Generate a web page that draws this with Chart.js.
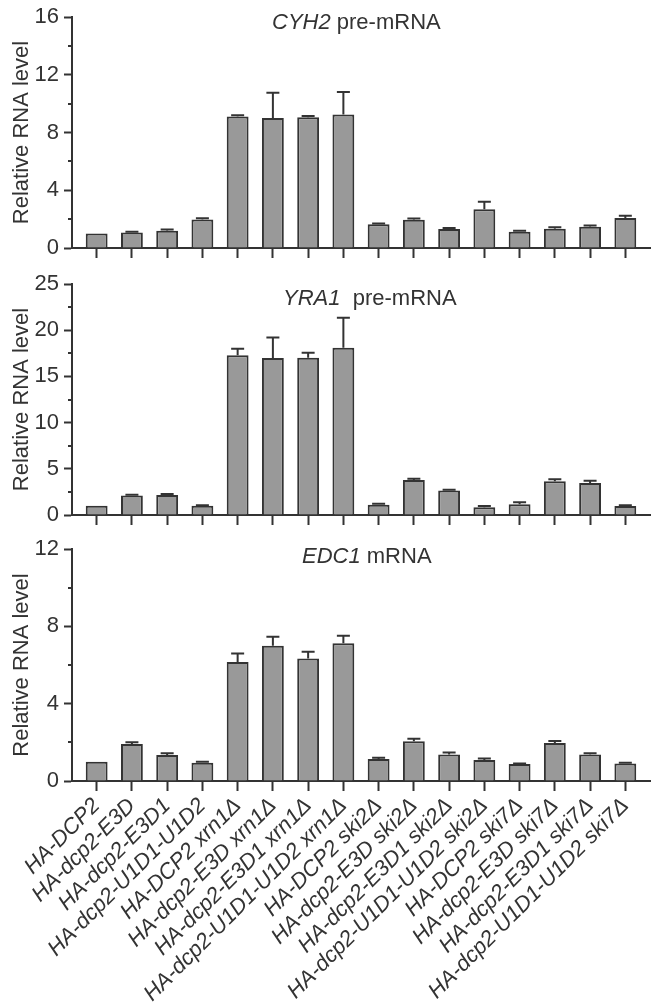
<!DOCTYPE html>
<html>
<head>
<meta charset="utf-8">
<script src="https://cdn.jsdelivr.net/npm/chart.js@4"></script>
<style>
  body { margin: 0; background: #fff; }
  #wrap { position: relative; width: 659px; height: 1002px; }
  canvas { position: absolute; left: 0; }
</style>
</head>
<body>
<div id="wrap">
  <canvas id="c1" width="659" height="262" style="top:0px"></canvas>
  <canvas id="c2" width="659" height="262" style="top:266px"></canvas>
  <canvas id="c3" width="659" height="472" style="top:530px"></canvas>
</div>
<script>
const strains = [
    "HA-DCP2", "HA-dcp2-E3D", "HA-dcp2-E3D1", "HA-dcp2-U1D1-U1D2",
    "HA-DCP2 xrn1Δ", "HA-dcp2-E3D xrn1Δ", "HA-dcp2-E3D1 xrn1Δ", "HA-dcp2-U1D1-U1D2 xrn1Δ",
    "HA-DCP2 ski2Δ", "HA-dcp2-E3D ski2Δ", "HA-dcp2-E3D1 ski2Δ", "HA-dcp2-U1D1-U1D2 ski2Δ",
    "HA-DCP2 ski7Δ", "HA-dcp2-E3D ski7Δ", "HA-dcp2-E3D1 ski7Δ", "HA-dcp2-U1D1-U1D2 ski7Δ"
];

// CYH2 pre-mRNA
const cyh2Values = [1.0, 1.07, 1.2, 1.98, 9.1, 9.0, 9.05, 9.25, 1.65, 1.96, 1.32, 2.68, 1.12, 1.34, 1.48, 2.08];
const cyh2Errors = [0, 0.06, 0.09, 0.08, 0.09, 1.75, 0.09, 1.55, 0.05, 0.08, 0.07, 0.52, 0.08, 0.09, 0.07, 0.16];
const cyh2Ticks = [0, 4, 8, 12, 16];

// YRA1 pre-mRNA
const yra1Values = [1.0, 2.1, 2.17, 1.0, 17.3, 17.0, 17.02, 18.1, 1.12, 3.8, 2.66, 0.85, 1.17, 3.66, 3.45, 0.98];
const yra1Errors = [0, 0.1, 0.1, 0.06, 0.68, 2.2, 0.55, 3.25, 0.1, 0.12, 0.06, 0.12, 0.2, 0.2, 0.25, 0.08];
const yra1Ticks = [0, 5, 10, 15, 20, 25];

// EDC1 mRNA
const edc1Values = [1.0, 1.92, 1.35, 0.95, 6.15, 7.0, 6.34, 7.12, 1.14, 2.05, 1.37, 1.09, 0.88, 1.97, 1.37, 0.9];
const edc1Errors = [0, 0.08, 0.08, 0.04, 0.45, 0.46, 0.34, 0.39, 0.06, 0.13, 0.1, 0.07, 0.03, 0.1, 0.06, 0.05];
const edc1Ticks = [0, 4, 8, 12];

const INK = "#333333";
Chart.defaults.font.family = '"Liberation Sans", Arial, sans-serif';
Chart.defaults.color = INK;

// titulo dentro do grafico, parte do gene em italico
const panelTitle = {
    id: "panelTitle",
    afterDraw(chart, args, opts) {
        const ctx = chart.ctx;
        ctx.save();
        ctx.fillStyle = INK;
        ctx.textBaseline = "alphabetic";
        ctx.textAlign = "left";
        ctx.font = 'italic 22px "Liberation Sans", Arial, sans-serif';
        ctx.fillText(opts.gene, opts.x, opts.y);
        const w = ctx.measureText(opts.gene).width;
        ctx.font = '22px "Liberation Sans", Arial, sans-serif';
        ctx.fillText(opts.rest, opts.x + w, opts.y);
        ctx.restore();
    }
};

// tracos menores do eixo y e barras de erro (so para cima)
const extras = {
    id: "extras",
    afterDatasetsDraw(chart, args, opts) {
        const ctx = chart.ctx;
        const y = chart.scales.y;
        ctx.save();
        ctx.strokeStyle = INK;
        ctx.lineWidth = 2;
        // minor ticks
        for (let v = opts.step / 2; v < y.max; v += opts.step) {
            const py = Math.round(y.getPixelForValue(v));
            ctx.beginPath();
            ctx.moveTo(y.right - 4, py);
            ctx.lineTo(y.right, py);
            ctx.stroke();
        }
        // error bars
        const meta = chart.getDatasetMeta(0);
        meta.data.forEach((bar, i) => {
            const err = opts.errors[i];
            if (!err) return;
            const top = y.getPixelForValue(opts.values[i] + err);
            ctx.beginPath();
            ctx.moveTo(bar.x, bar.y);
            ctx.lineTo(bar.x, top);
            ctx.moveTo(bar.x - 6.5, top);
            ctx.lineTo(bar.x + 6.5, top);
            ctx.stroke();
        });
        ctx.restore();
    }
};

function criarPainel(id, values, errors, ticks, title, showLabels, padTop, xHeight) {
    const step = ticks[1] - ticks[0];
    const yMax = ticks[ticks.length - 1];
    return new Chart(document.getElementById(id), {
        type: "bar",
        data: {
            datasets: [{
                data: values.map((v, i) => ({ x: i, y: v })),
                backgroundColor: "#999999",
                borderColor: INK,
                borderWidth: 2,
                barPercentage: 0.62,
                categoryPercentage: 1
            }]
        },
        options: {
            responsive: false,
            animation: false,
            layout: { padding: { top: padTop, right: 9, left: 0, bottom: 0 } },
            plugins: {
                legend: { display: false },
                tooltip: { enabled: false },
                panelTitle: title,
                extras: { values: values, errors: errors, step: step }
            },
            scales: {
                x: {
                    type: "linear",
                    offset: false,
                    min: -0.7,
                    max: 15.7,
                    grid: { display: true, offset: false, drawOnChartArea: false, tickLength: 10, tickWidth: 2, tickColor: INK },
                    border: { color: INK, width: 2 },
                    ticks: {
                        display: showLabels,
                        stepSize: 1,
                        includeBounds: false,
                        autoSkip: false,
                        minRotation: 45,
                        maxRotation: 45,
                        padding: 2,
                        color: INK,
                        font: { size: 22, style: "italic" },
                        callback: v => strains[v]
                    },
                    afterFit: s => { s.height = xHeight; s.paddingLeft = 0; s.paddingRight = 0; }
                },
                y: {
                    min: 0,
                    max: yMax,
                    grid: { display: true, drawOnChartArea: false, tickLength: 8, tickWidth: 2, tickColor: INK },
                    border: { color: INK, width: 2 },
                    ticks: { stepSize: step, padding: 5, color: INK, font: { size: 22 } },
                    title: {
                        display: true,
                        text: "Relative RNA level",
                        color: INK,
                        font: { size: 22 },
                        padding: { top: 9, bottom: 0 }
                    },
                    afterFit: s => { s.width = 72; s.paddingTop = 0; s.paddingBottom = 0; }
                }
            }
        },
        plugins: [panelTitle, extras]
    });
}

criarPainel("c1", cyh2Values, cyh2Errors, cyh2Ticks,
    { gene: "CYH2", rest: " pre-mRNA", x: 272, y: 29 }, false, 17, 14);
criarPainel("c2", yra1Values, yra1Errors, yra1Ticks,
    { gene: "YRA1", rest: "  pre-mRNA", x: 283, y: 39 }, false, 18, 13);
criarPainel("c3", edc1Values, edc1Errors, edc1Ticks,
    { gene: "EDC1", rest: " mRNA", x: 302, y: 33 }, true, 19, 221);
</script>
</body>
</html>
